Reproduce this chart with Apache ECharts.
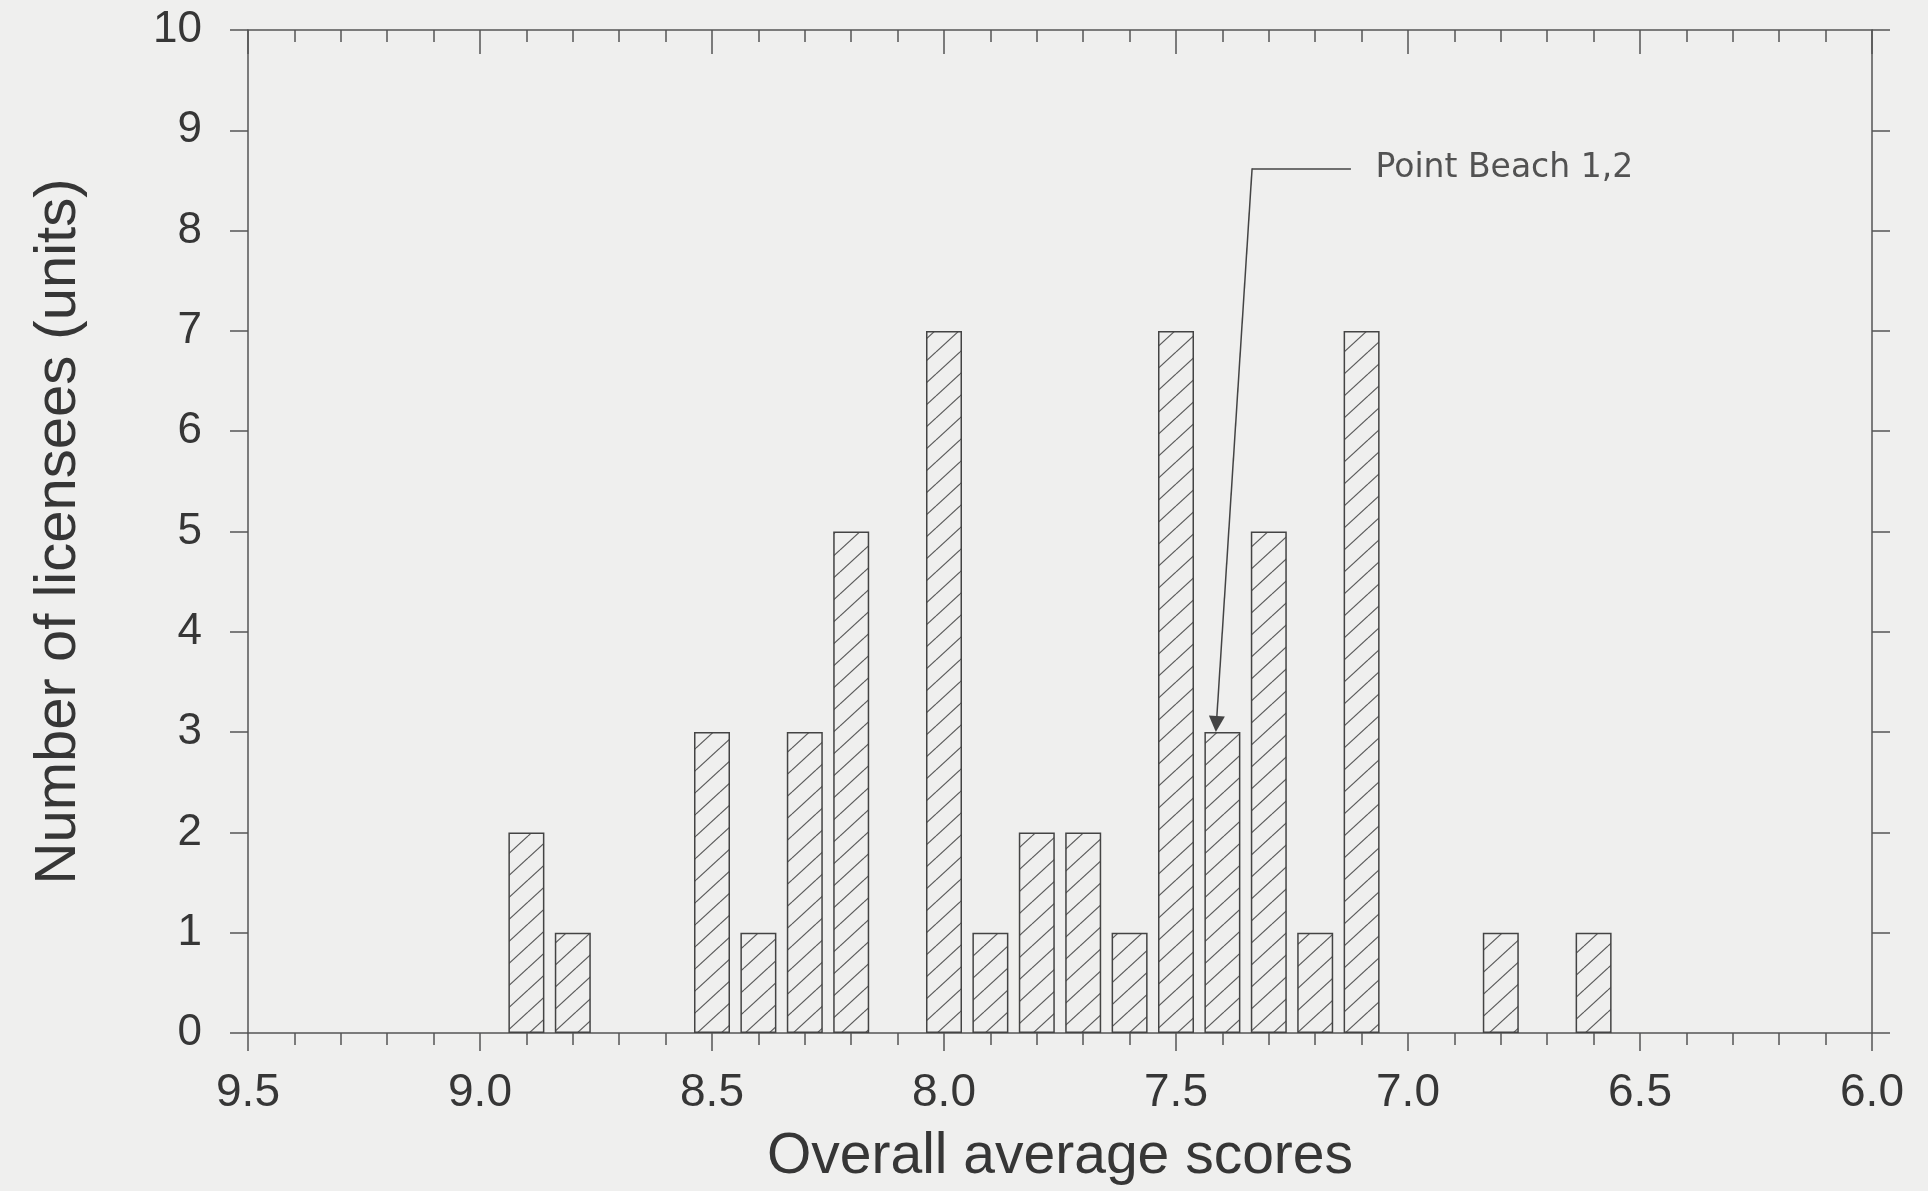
<!DOCTYPE html>
<html>
<head>
<meta charset="utf-8">
<script src="https://cdn.jsdelivr.net/npm/echarts@6/dist/echarts.min.js"></script>
<style>
  html, body { margin: 0; padding: 0; background: #efefee; }
  #chart { width: 1928px; height: 1191px; }
</style>
</head>
<body>
<div id="chart"></div>
<script>
// scores (bin centres) and number of licensees in each
const scores = [8.9, 8.8, 8.5, 8.4, 8.3, 8.2, 8.0, 7.9, 7.8, 7.7, 7.6, 7.5, 7.4, 7.3, 7.2, 7.1, 6.8, 6.6];
const counts = [2, 1, 3, 1, 3, 5, 7, 1, 2, 2, 1, 7, 3, 5, 1, 7, 1, 1];

// annotation: label anchor and leader line (data coords)
const noteText = "Point Beach 1,2";
const noteAnchor = [7.07, 8.62];
const noteElbow = [[7.123, 8.62], [7.336, 8.62]];
const noteArrow = [[7.336, 8.62], [7.413, 3.08]];

const xTitle = "Overall average scores";
const yTitle = "Number of licensees (units)";

const textColor = "#363636";
const lineColor = "#555";
const font = "'Liberation Sans', Arial, sans-serif";

// hatch pattern "/" for the bars
const makeHatch = () => {
  const w = 24, h = 22;
  const c = document.createElement("canvas");
  c.width = w;
  c.height = h;
  const ctx = c.getContext("2d");
  ctx.strokeStyle = "#5a5a5a";
  ctx.lineWidth = 1.2;
  for (let k = -1; k <= 1; k++) {
    ctx.beginPath();
    ctx.moveTo(0, h + k * h);
    ctx.lineTo(w, k * h);
    ctx.stroke();
  }
  return c;
};

const chart = echarts.init(document.getElementById("chart"));

const xBase = {
  type: "value",
  min: 6,
  max: 9.5,
  interval: 0.5,
  inverse: true,
  splitLine: { show: false },
  axisLine: { show: true, onZero: false, lineStyle: { color: lineColor, width: 1.5 } }
};
const yBase = {
  type: "value",
  min: 0,
  max: 10,
  interval: 1,
  splitLine: { show: false },
  axisLine: { show: true, lineStyle: { color: lineColor, width: 1.5 } }
};

chart.setOption({
  animation: false,
  backgroundColor: "#efefee",
  grid: { left: 248, right: 56, top: 30, bottom: 155 },
  xAxis: [
    {
      ...xBase,
      position: "bottom",
      name: xTitle,
      nameLocation: "middle",
      nameGap: 96,
      nameTextStyle: { color: textColor, fontSize: 57, fontFamily: font },
      axisTick: { show: true, length: 18, lineStyle: { color: lineColor, width: 1.5 } },
      minorTick: { show: true, splitNumber: 5, length: 12, lineStyle: { color: lineColor, width: 1.5 } },
      axisLabel: {
        color: textColor,
        fontSize: 46,
        fontFamily: font,
        margin: 37,
        formatter: v => v.toFixed(1)
      }
    },
    {
      ...xBase,
      position: "top",
      axisTick: { show: true, inside: true, length: 24, lineStyle: { color: lineColor, width: 1.5 } },
      minorTick: { show: true, splitNumber: 5, length: 12, lineStyle: { color: lineColor, width: 1.5 } },
      axisLabel: { show: false }
    }
  ],
  yAxis: [
    {
      ...yBase,
      position: "left",
      name: yTitle,
      nameLocation: "middle",
      nameGap: 160,
      nameTextStyle: { color: textColor, fontSize: 58, fontFamily: font },
      axisTick: { show: true, length: 18, lineStyle: { color: lineColor, width: 1.5 } },
      axisLabel: { color: textColor, fontSize: 44, fontFamily: font, margin: 46 }
    },
    {
      ...yBase,
      position: "right",
      axisTick: { show: true, length: 18, lineStyle: { color: lineColor, width: 1.5 } },
      axisLabel: { show: false }
    }
  ],
  series: [
    {
      type: "bar",
      xAxisIndex: 0,
      yAxisIndex: 0,
      barWidth: 36,
      silent: true,
      itemStyle: {
        color: { image: makeHatch(), repeat: "repeat" },
        borderColor: "#444",
        borderWidth: 1.5
      },
      data: scores.map((s, i) => [s, counts[i]])
    },
    {
      type: "lines",
      coordinateSystem: "cartesian2d",
      silent: true,
      symbol: ["none", "none"],
      lineStyle: { color: "#444", width: 1.5, opacity: 1 },
      data: [{ coords: noteElbow }]
    },
    {
      type: "lines",
      coordinateSystem: "cartesian2d",
      silent: true,
      symbol: ["none", "triangle"],
      symbolSize: [0, 16],
      lineStyle: { color: "#444", width: 1.5, opacity: 1 },
      data: [{ coords: noteArrow }]
    },
    {
      type: "scatter",
      symbolSize: 0,
      silent: true,
      label: {
        show: true,
        position: "right",
        distance: 0,
        formatter: noteText,
        color: "#2a2a2a",
        fontSize: 33,
        fontFamily: "'DejaVu Sans', sans-serif"
      },
      data: [noteAnchor]
    }
  ]
});
</script>
</body>
</html>
